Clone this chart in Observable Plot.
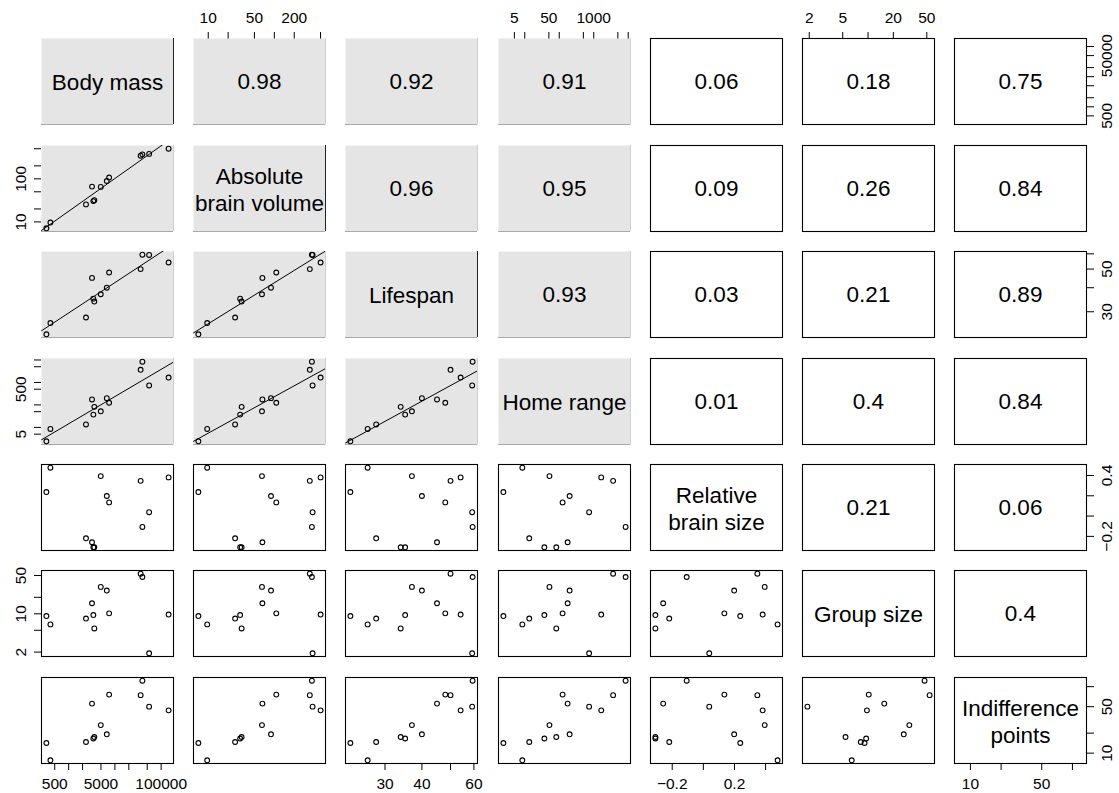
<!DOCTYPE html>
<html><head><meta charset="utf-8">
<script src="https://cdn.jsdelivr.net/npm/d3@7"></script>
<script src="https://cdn.jsdelivr.net/npm/@observablehq/plot@0.6"></script>
<style>
html,body{margin:0;padding:0;background:#fff;}
#chart{position:relative;width:1119px;height:793px;overflow:hidden;background:#fff;}
#chart svg{position:absolute;background:none;max-width:none;overflow:visible;}
</style></head><body><div id="chart"></div>
<script>
// Variable names (diagonal)
const varNames = ["Body mass", "Absolute\nbrain volume", "Lifespan", "Home range", "Relative\nbrain size", "Group size", "Indifference\npoints"];
// Per-species values (13 species)
const bodyMass     = [330, 403, 2370, 3200, 3420, 3590, 4950, 6680, 7500, 36000, 39300, 55000, 145000];
const brainVolume  = [7.1, 9.65, 25.5, 66, 30.4, 32, 65, 89, 107, 344, 370, 379, 501];
const lifespan     = [22.9, 26.2, 28.0, 45.0, 35.1, 33.9, 37.0, 40.0, 48.0, 50.0, 59.4, 59.2, 54.1];
const homeRange    = [2.4, 8.5, 13.5, 175, 37, 82, 52, 200, 125, 3650, 8400, 735, 1650];
const relBrainSize = [0.237, 0.477, -0.219, -0.258, -0.308, -0.308, 0.394, 0.198, 0.135, 0.347, -0.107, 0.038, 0.381];
const groupSize    = [9.1, 6.4, 8.2, 15.6, 9.5, 5.4, 31, 26.6, 10.2, 54, 47, 1.9, 9.7];
const indifference = [14.2, 7.8, 14.7, 55.6, 16.6, 17.5, 26.4, 19.2, 76, 74.5, 123, 50, 44];
// Correlations shown in the upper triangle (row by row)
const correlations = [
  [0.98, 0.92, 0.91, 0.06, 0.18, 0.75],
  [0.96, 0.95, 0.09, 0.26, 0.84],
  [0.93, 0.03, 0.21, 0.89],
  [0.01, 0.4, 0.84],
  [0.21, 0.06],
  [0.4]
];
// Tick values and tick labels
const bmTicks = [500, 1000, 2000, 5000, 10000, 20000, 50000, 100000];
const abvTicks = [10, 20, 50, 100, 200, 500];
const lsTicks = [30, 40, 50, 60];
const hrTicks = [5, 10, 50, 100, 500, 1000, 5000, 10000];
const rbsTicks = [-0.2, 0, 0.2, 0.4];
const gsTicks = [2, 5, 10, 20, 50];
const ipTicks = [10, 20, 50, 100];
const bmXLabels = [500, 5000, 100000], bmYLabels = [500, 50000];
const abvXLabels = [10, 50, 200], abvYLabels = [10, 100];
const lsXLabels = [30, 40, 60], lsYLabels = [30, 50];
const hrXLabels = [5, 50, 1000], hrYLabels = [5, 500];
const rbsXLabels = [-0.2, 0.2], rbsYLabels = [-0.2, 0.4];
const gsXLabels = [2, 5, 20, 50], gsYLabels = [2, 10, 50];
const ipXLabels = [10, 50], ipYLabels = [10, 50];

const vars = [bodyMass, brainVolume, lifespan, homeRange, relBrainSize, groupSize, indifference];
const isLog = [true, true, true, true, false, true, true];
const tickSets = [bmTicks, abvTicks, lsTicks, hrTicks, rbsTicks, gsTicks, ipTicks];
const xLabelSets = [bmXLabels, abvXLabels, lsXLabels, hrXLabels, rbsXLabels, gsXLabels, ipXLabels];
const yLabelSets = [bmYLabels, abvYLabels, lsYLabels, hrYLabels, rbsYLabels, gsYLabels, ipYLabels];

const FONT = "'Liberation Sans', Arial, Helvetica, sans-serif";
const M = 40, W = 132, H = 86;
const colLeft = j => 41 + 152.2 * j;
const rowTop = i => 38.3 + 106.4 * i;
const fmt = d => String(d).replace("-", "\u2212");

function domainOf(k) {
  const v = vars[k];
  if (isLog[k]) {
    const [a, b] = d3.extent(v.map(Math.log10));
    const r = (b - a) * 0.04;
    return [10 ** (a - r), 10 ** (b + r)];
  }
  const [a, b] = d3.extent(v);
  const r = (b - a) * 0.04;
  return [a - r, b + r];
}
const domains = vars.map((_, k) => domainOf(k));
const idx = d3.range(bodyMass.length);

function regression(j, i) {
  const xs = vars[j].map(Math.log10), ys = vars[i].map(Math.log10);
  const mx = d3.mean(xs), my = d3.mean(ys);
  const b = d3.sum(xs, (x, n) => (x - mx) * (ys[n] - my)) / d3.sum(xs, x => (x - mx) ** 2);
  const a = my - b * mx;
  return domains[j].map(x => [x, 10 ** (a + b * Math.log10(x))]);
}

const chart = document.getElementById("chart");
const n = vars.length;
for (let i = 0; i < n; i++) {
  for (let j = 0; j < n; j++) {
    const gray = i < 4 && j < 4;
    const xAxis = (i === n - 1 && j % 2 === 0) ? "bottom" : (i === 0 && j % 2 === 1) ? "top" : null;
    const yAxis = (j === 0 && i % 2 === 1) ? "left" : (j === n - 1 && i % 2 === 0) ? "right" : null;
    const marks = [];
    if (gray) {
      marks.push(Plot.frame({fill: "#e5e5e5"}));
      marks.push(Plot.ruleY([domains[i][0]], {stroke: "#a8a8a8"}));
      marks.push(Plot.ruleX([domains[j][1]], {stroke: i === j && i < 3 ? "#222" : "#d0d0d0"}));
    }
    if (i > j) {
      if (i < 4 && j < 4) {
        marks.push(Plot.line(regression(j, i), {x: d => d[0], y: d => d[1], stroke: "black", strokeWidth: 1, clip: true}));
      }
      marks.push(Plot.dot(idx, {x: k => vars[j][k], y: k => vars[i][k], r: 2.4, stroke: "black", strokeWidth: 1.1, fill: "none"}));
    } else if (i === j) {
      marks.push(Plot.text([varNames[i]], {frameAnchor: "middle", text: d => d, fontSize: 22.5, lineHeight: 1.2, fontFamily: FONT, fill: "black"}));
    } else {
      marks.push(Plot.text([correlations[i][j - i - 1]], {frameAnchor: "middle", text: d => String(d), fontSize: 22.5, fontFamily: FONT, fill: "black"}));
    }
    if (!gray) marks.push(Plot.frame({stroke: "black", strokeWidth: 1.1}));
    if (xAxis === "bottom") {
      marks.push(Plot.text(xLabelSets[j], {x: d => d, frameAnchor: "bottom", dy: 14, lineAnchor: "top", text: fmt, fontSize: 15.5, fontFamily: FONT, fill: "black"}));
    } else if (xAxis === "top") {
      marks.push(Plot.text(xLabelSets[j], {x: d => d, frameAnchor: "top", dy: -15.6, lineAnchor: "bottom", text: fmt, fontSize: 15.5, fontFamily: FONT, fill: "black"}));
    }
    if (yAxis === "left") {
      marks.push(Plot.text(yLabelSets[i], {y: d => d, frameAnchor: "left", dx: -16, rotate: -90, textAnchor: "middle", lineAnchor: "bottom", text: fmt, fontSize: 15.5, fontFamily: FONT, fill: "black"}));
    } else if (yAxis === "right") {
      marks.push(Plot.text(yLabelSets[i], {y: d => d, frameAnchor: "right", dx: 25, rotate: -90, textAnchor: "middle", lineAnchor: "bottom", text: fmt, fontSize: 15.5, fontFamily: FONT, fill: "black"}));
    }
    const svg = Plot.plot({
      width: W + 2 * M, height: H + 2 * M,
      marginLeft: M, marginRight: M, marginTop: M, marginBottom: M,
      x: {type: isLog[j] ? "log" : "linear", domain: domains[j], axis: xAxis, ticks: tickSets[j], tickFormat: () => "", tickSize: 7, label: null},
      y: {type: isLog[i] ? "log" : "linear", domain: domains[i], axis: yAxis, ticks: tickSets[i], tickFormat: () => "", tickSize: 7, label: null},
      marks
    });
    svg.style.left = (colLeft(j) - M) + "px";
    svg.style.top = (rowTop(i) - M) + "px";
    svg.style.width = (W + 2 * M) + "px";
    svg.style.height = (H + 2 * M) + "px";
    svg.style.background = "none";
    svg.style.fontFamily = FONT;
    chart.appendChild(svg);
  }
}
</script></body></html>
